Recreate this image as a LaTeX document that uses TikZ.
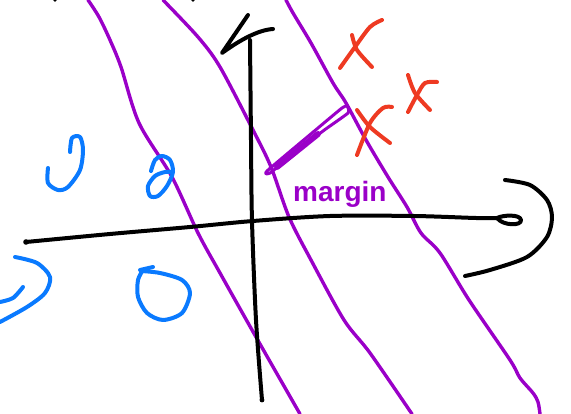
\documentclass[tikz,border=0pt]{standalone}
\usepackage{fontspec}
\setmainfont{Liberation Sans}
\usepackage{tikz}
\definecolor{SketchPurple}{HTML}{9A00C8}
\definecolor{SketchBlue}{HTML}{0A7AFF}
\definecolor{SketchRed}{HTML}{EE3A22}
\definecolor{SketchInk}{HTML}{000000}
\begin{document}
\begin{tikzpicture}[x=1pt, y=-1pt, line cap=round, line join=round]
\useasboundingbox (0,0) rectangle (571,414);
% separating lines
\draw[SketchPurple, line width=3.4pt] plot[smooth] coordinates {(88,0) (99,17) (110,40) (121,67) (139,123) (172,177) (198,233) (220,273) (256,337) (300,414)};
\draw[SketchPurple, line width=3.4pt] plot[smooth] coordinates {(163,0) (198,37) (220,67) (253,130) (271,167) (289,217) (311,260) (344,320) (370,353) (412,414)};
\draw[SketchPurple, line width=3.4pt] plot[smooth] coordinates {(286,0) (293,13) (311,43) (333,83) (346,103) (366,140) (388,177) (407,207) (421,233) (440,253) (469,300) (510,360) (520,378) (533,393) (538,402) (540,414)};
% axes
\draw[SketchInk, line width=4pt] plot[smooth] coordinates {(26,242) (110,234) (190,227) (253,221) (330,216) (414,216) (476,218) (497,218)};
\draw[SketchInk, line width=4pt] (497,218) .. controls (503,226) and (522,226) .. (521,220) .. controls (520,214) and (503,215) .. (497,218);
\draw[SketchInk, line width=4pt] plot[smooth] coordinates {(505,180) (530,185) (547,200) (552,217) (547,237) (527,257) (490,270) (465,276)};
\draw[SketchInk, line width=4pt] plot[smooth] coordinates {(250,40) (251,140) (252,221) (256,320) (262,400)};
\draw[SketchInk, line width=4pt] (248,15) -- (222,53) .. controls (240,40) and (258,30) .. (273,29);
\fill[SketchInk] (26,242) circle (2.8) (262,400) circle (2.4) (55,0) circle (1.8) (193,0) circle (1.8);
% margin
\draw[SketchPurple, line width=3pt] plot[smooth cycle, tension=0.3] coordinates {(267,171) (318,128) (342,108) (347,106) (348,113) (323,131) (290,157) (270,173)};
\draw[SketchPurple, line width=6pt] (277,167) -- (318,134);
\node[SketchPurple, font=\bfseries\fontsize{28}{28}\selectfont, anchor=base west, inner sep=0pt] (marginlabel) at (293,202) {margin};
% positive class
\draw[SketchRed, line width=4pt] plot[smooth] coordinates {(352,35) (357,50) (372,67)};
\draw[SketchRed, line width=4pt] plot[smooth] coordinates {(382,20) (370,27) (355,47) (340,68)};
\draw[SketchRed, line width=4pt] plot[smooth] coordinates {(408,75) (415,93) (430,110)};
\draw[SketchRed, line width=4pt] plot[smooth] coordinates {(437,82) (425,83) (417,95) (408,112)};
\draw[SketchRed, line width=4pt] plot[smooth] coordinates {(357,110) (370,127) (390,143)};
\draw[SketchRed, line width=4pt] plot[smooth] coordinates {(392,107) (383,108) (370,123) (357,155)};
% negative class
\draw[SketchBlue, line width=4pt] plot[smooth] coordinates {(70,152) (72,138) (80,137) (83,150) (80,170) (68,187) (58,190) (48,183) (48,168)};
\draw[SketchBlue, line width=4pt] plot[smooth] coordinates {(151,171) (155,160) (162,156) (170,160) (173,172) (167,186) (158,196) (150,196) (148,186) (155,176) (165,172) (172,172)};
\draw[SketchBlue, line width=4pt] plot[smooth] coordinates {(15,257) (37,263) (50,277) (45,293) (27,307) (0,322)};
\draw[SketchBlue, line width=4pt] plot[smooth] coordinates {(23,287) (13,298) (0,302)};
\draw[SketchBlue, line width=4pt] (140,270) -- (153,267);
\draw[SketchBlue, line width=4pt] plot[smooth] coordinates {(141,271) (160,273) (182,280) (190,293) (182,313) (163,320) (147,313) (138,297) (138,280) (143,270)};
\end{tikzpicture}
\end{document}
